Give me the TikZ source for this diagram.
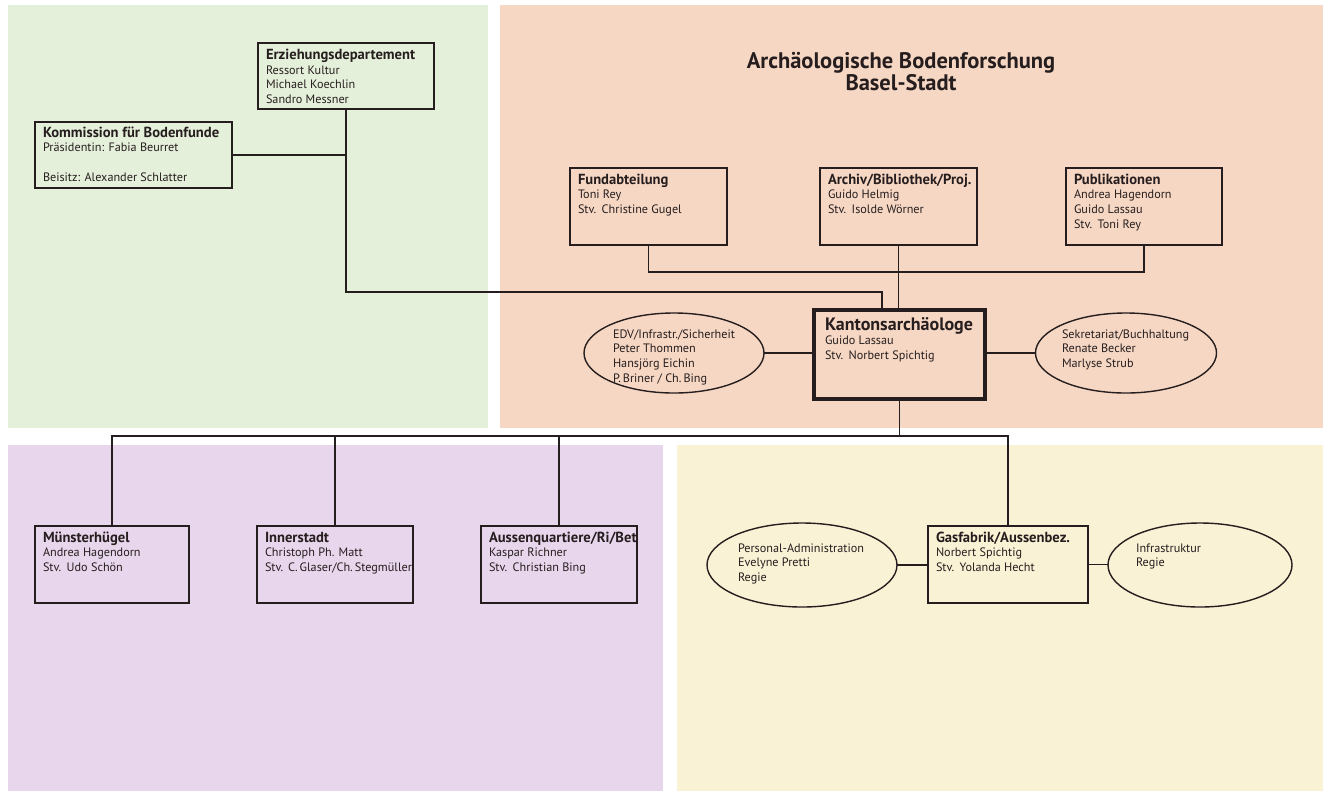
\documentclass[tikz,border=0pt]{standalone}
\usepackage{fontspec}
\setmainfont{PT Sans}
\usetikzlibrary{shapes.geometric,calc}
\definecolor{ink}{RGB}{38,30,30}
\definecolor{pgreen}{RGB}{229,240,219}
\definecolor{porange}{RGB}{246,215,196}
\definecolor{ppurple}{RGB}{232,214,236}
\definecolor{pyellow}{RGB}{250,242,213}
\newcommand{\regfont}{\fontsize{12.2pt}{14.7pt}\selectfont}
\newcommand{\hd}[1]{{\fontsize{14.6pt}{14.7pt}\selectfont\bfseries #1}}
\newcommand{\orgtext}[4]{\vbox to #2{\hsize=#1\relax\parindent=0pt\regfont\raggedright\leavevmode\rule{0pt}{#3}#4\par\vfill}}
\begin{document}
\begin{tikzpicture}[x=1pt,y=-1pt,
  every node/.style={inner sep=0pt,outer sep=0pt,text=ink},
  orgbox/.style={draw=ink,line width=2.6pt,anchor=north west,inner xsep=8pt,inner ysep=0pt},
  mainbox/.style={orgbox,line width=3.6pt,inner xsep=11pt},
  oval/.style={draw=ink,line width=1.4pt,ellipse,inner sep=0pt,minimum width=180pt,minimum height=80pt},
  wire/.style={draw=ink,line width=1.3pt},
  titletext/.style={anchor=base,font=\fontsize{22.5pt}{24pt}\selectfont\bfseries}
]
\useasboundingbox (0,0) rectangle (1330,793);
\fill[white] (0,0) rectangle (1330,793);
% panels
\fill[pgreen] (8,5) rectangle (488,428);
\fill[porange] (500,5) rectangle (1323,428);
\fill[ppurple] (8,445) rectangle (663,791);
\fill[pyellow] (677,445) rectangle (1323,791);

% title
\node[titletext] (title1) at (901,68) {Archäologische Bodenforschung};
\node[titletext] (title2) at (901,90) {Basel-Stadt};

% boxes
\node[orgbox] (erz) at (258,43) {\orgtext{160pt}{66pt}{16.5pt}{\hd{Erziehungsdepartement}\\Ressort Kultur\\Michael Koechlin\\Sandro Messner}};
\node[orgbox] (kom) at (35,122) {\orgtext{181pt}{66pt}{15pt}{\hd{Kommission für Bodenfunde}\\Präsidentin: Fabia Beurret\\\mbox{}\\Beisitz: Alexander Schlatter}};
\node[orgbox] (fund) at (570,168) {\orgtext{141pt}{77pt}{16pt}{\hd{Fundabteilung}\\Toni Rey\\\mbox{Stv.\hspace{0.45em}Christine Gugel}}};
\node[orgbox] (archiv) at (820,168) {\orgtext{141pt}{77pt}{16pt}{\hd{Archiv/Bibliothek/Proj.}\\Guido Helmig\\\mbox{Stv.\hspace{0.45em}Isolde Wörner}}};
\node[orgbox] (pub) at (1066,168) {\orgtext{140pt}{77pt}{16pt}{\hd{Publikationen}\\Andrea Hagendorn\\Guido Lassau\\\mbox{Stv.\hspace{0.45em}Toni Rey}}};
\node[mainbox] (kant) at (814,310) {\orgtext{149pt}{89pt}{20pt}{{\fontsize{18pt}{14.7pt}\selectfont\bfseries Kantonsarchäologe}\\Guido Lassau\\\mbox{Stv.\hspace{0.45em}Norbert Spichtig}}};

\node[orgbox] (muen) at (35,526) {\orgtext{138pt}{77pt}{16pt}{\hd{Münsterhügel}\\Andrea Hagendorn\\\mbox{Stv.\hspace{0.45em}Udo Schön}}};
\node[orgbox] (inner) at (257,526) {\orgtext{140pt}{77pt}{16pt}{\hd{Innerstadt}\\Christoph Ph. Matt\\\mbox{Stv.\hspace{0.4em}C.\,Glaser/Ch.\,Stegmüller}}};
\node[orgbox] (aussen) at (481,526) {\orgtext{140pt}{77pt}{16pt}{\hd{Aussenquartiere/Ri/Bet}\\Kaspar Richner\\\mbox{Stv.\hspace{0.45em}Christian Bing}}};
\node[orgbox] (gas) at (928,526) {\orgtext{144pt}{77pt}{16pt}{\hd{Gasfabrik/Aussenbez.}\\Norbert Spichtig\\\mbox{Stv.\hspace{0.45em}Yolanda Hecht}}};

% ellipses
\node[oval] (edv) at (674,353) {\orgtext{122pt}{56pt}{13pt}{EDV/Infrastr./Sicherheit\\Peter Thommen\\Hansjörg Eichin\\\mbox{P.\,Briner / Ch.\,Bing}}};
\node[oval] (sek) at (1126,353) {\orgtext{128pt}{56pt}{13pt}{Sekretariat/Buchhaltung\\Renate Becker\\Marlyse Strub}};
\node[oval,minimum width=190pt,minimum height=84pt] (pers) at (802,565) {\orgtext{128pt}{56pt}{15pt}{Personal-Administration\\Evelyne Pretti\\Regie}};
\node[oval,minimum width=184pt,minimum height=84pt] (infra) at (1200,565) {\orgtext{128pt}{56pt}{15pt}{Infrastruktur\\Regie}};

% connector junctions
\coordinate (ej) at (882,292);
\coordinate (fb) at (0,272);
\coordinate (bl) at (0,436);

% connectors
\draw[wire] (kom.east) -- (kom.east -| erz.south);
\draw[wire] (erz.south) |- (ej) -- (ej |- kant.north);
\draw[wire] (fund.south) -- (fund.south |- fb) -| (pub.south);
\draw[wire] (archiv.south) -- (archiv.south |- kant.north);
\draw[wire] (edv.east) -- (edv.east -| kant.west);
\draw[wire] (kant.east |- sek.west) -- (sek.west);
\draw[wire] (kant.south) -- (kant.south |- bl);
\draw[wire] (muen.north) |- (gas.north |- bl) -- (gas.north);
\draw[wire] (inner.north) -- (inner.north |- bl);
\draw[wire] (aussen.north) -- (aussen.north |- bl);
\draw[wire] (pers.east) -- (pers.east -| gas.west);
\draw[wire] (gas.east) -- (gas.east -| infra.west);
\end{tikzpicture}
\end{document}
